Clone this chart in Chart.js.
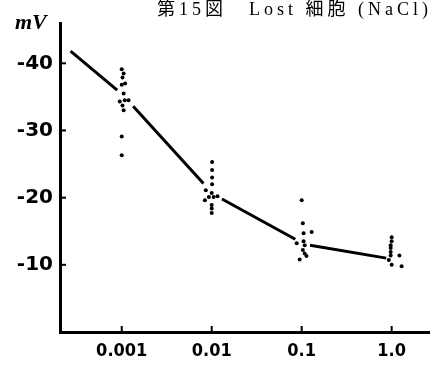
<!DOCTYPE html>
<html lang="ja">
  <head>
    <meta charset="UTF-8" />
    <title>第15図 Lost 細胞 (NaCl)</title>
    <style>
      html, body { margin: 0; padding: 0; background: #fff; }
      #wrap { position: relative; width: 433px; height: 365px; }
    </style>
    <script src="https://cdn.jsdelivr.net/npm/chart.js"></script>
  </head>
  <body>
    <div id="wrap"><canvas id="lostChart"></canvas></div>
    <script>
      // title and axis unit
      const chartTitle = "第15図　Lost 細胞 (NaCl)";
      const yUnit = "mV";

      // x: NaCl concentration (log), y: membrane potential (mV)
      const xTickValues = [0.001, 0.01, 0.1, 1.0];
      const xTickLabels = ["0.001", "0.01", "0.1", "1.0"];
      const yTickValues = [-40, -30, -20, -10];
      const yTickLabels = ["-40", "-30", "-20", "-10"];

      // hand-drawn curve, broken around each cluster (null = gap)
      const curveX = [0.00027, 0.00089, null, 0.00134, 0.0081, null, 0.0130, 0.0849, null, 0.124, 0.871];
      const curveY = [-41.8, -36.0, null, -33.6, -22.1, null, -19.8, -13.8, null, -12.9, -11.0];

      // individual measurements
      const dotsX = [
        0.001, 0.00105, 0.00102, 0.00109, 0.001, 0.00105, 0.00095, 0.00108, 0.00119, 0.00102, 0.00105, 0.001, 0.001,
        0.0101, 0.0101, 0.0101, 0.0101, 0.0086, 0.01, 0.0084, 0.0093, 0.0105, 0.0116, 0.01, 0.01, 0.01,
        0.1, 0.103, 0.105, 0.129, 0.088, 0.105, 0.108, 0.103, 0.108, 0.113, 0.095,
        1.0, 1.0, 0.975, 0.975, 0.975, 0.975, 0.93, 1.22, 1.0, 1.29
      ];
      const dotsY = [
        -39.1, -38.5, -37.9, -37.0, -36.8, -35.5, -34.3, -34.5, -34.5, -33.7, -33.0, -29.1, -26.3,
        -25.3, -24.1, -23.0, -22.0, -21.1, -20.7, -19.6, -20.1, -20.1, -20.2, -18.9, -18.4, -17.7,
        -19.6, -16.2, -14.7, -14.9, -13.2, -13.5, -12.9, -12.2, -11.7, -11.3, -10.8,
        -14.1, -13.5, -12.9, -12.5, -11.9, -11.4, -10.7, -11.4, -10.0, -9.8
      ];

      function toPoints(xs, ys) {
        return xs.map((x, i) => ({ x: x, y: ys[i] }));
      }

      // short inward tick marks + title text
      const paperPlugin = {
        id: "paper",
        afterDraw(chart) {
          const ctx = chart.ctx;
          const area = chart.chartArea;
          const xs = chart.scales.x;
          const ys = chart.scales.y;
          ctx.save();
          ctx.strokeStyle = "#000";
          ctx.lineWidth = 2;
          xTickValues.forEach((v) => {
            const px = xs.getPixelForValue(v);
            ctx.beginPath();
            ctx.moveTo(px, area.bottom);
            ctx.lineTo(px, area.bottom - 6);
            ctx.stroke();
          });
          yTickValues.forEach((v) => {
            const py = ys.getPixelForValue(v);
            ctx.beginPath();
            ctx.moveTo(area.left, py);
            ctx.lineTo(area.left + 6, py);
            ctx.stroke();
          });

          ctx.fillStyle = "#000";
          ctx.textBaseline = "middle";
          ctx.textAlign = "right";
          ctx.font = '18px "Liberation Serif", "Noto Sans CJK JP", serif';
          ctx.letterSpacing = "4px";
          ctx.fillText(chartTitle, 432, 10);
          ctx.letterSpacing = "0px";

          ctx.textAlign = "left";
          ctx.font = 'italic bold 22px "Liberation Serif", serif';
          ctx.fillText(yUnit, 15, 23);
          ctx.restore();
        },
      };

      function renderChart() {
        const ctx = document.getElementById("lostChart").getContext("2d");
        new Chart(ctx, {
          type: "scatter",
          data: {
            datasets: [
              {
                label: "curve",
                data: toPoints(curveX, curveY),
                showLine: true,
                spanGaps: false,
                borderColor: "#000",
                borderWidth: 3,
                pointRadius: 0,
                tension: 0,
              },
              {
                label: "cells",
                data: toPoints(dotsX, dotsY),
                backgroundColor: "#000",
                borderWidth: 0,
                pointRadius: 2,
              },
            ],
          },
          options: {
            responsive: true,
            maintainAspectRatio: false,
            animation: false,
            layout: { padding: { top: 23, right: 0, left: 0, bottom: 0 } },
            plugins: {
              legend: { display: false },
              tooltip: { enabled: false },
            },
            scales: {
              x: {
                type: "logarithmic",
                min: 0.000206,
                max: 2.6,
                afterBuildTicks: (scale) => {
                  scale.ticks = xTickValues.map((v) => ({ value: v }));
                },
                afterFit: (scale) => { scale.height = 33; },
                ticks: {
                  color: "#000",
                  padding: 9,
                  autoSkip: false,
                  maxRotation: 0,
                  font: { family: '"DejaVu Sans Condensed", "DejaVu Sans"', size: 18, weight: "bold" },
                  callback: (v) => {
                    const i = xTickValues.indexOf(v);
                    return i >= 0 ? xTickLabels[i] : "";
                  },
                },
                grid: { display: false, drawTicks: false },
                border: { display: true, color: "#000", width: 3 },
              },
              y: {
                type: "linear",
                min: -46,
                max: 0,
                reverse: true,
                afterBuildTicks: (scale) => {
                  scale.ticks = yTickValues.map((v) => ({ value: v }));
                },
                afterFit: (scale) => { scale.width = 60; },
                ticks: {
                  color: "#000",
                  padding: 7,
                  font: { family: '"DejaVu Sans"', size: 20, weight: "bold" },
                  callback: (v) => {
                    const i = yTickValues.indexOf(v);
                    return i >= 0 ? yTickLabels[i] : "";
                  },
                },
                grid: { display: false, drawTicks: false },
                border: { display: true, color: "#000", width: 3 },
              },
            },
          },
          plugins: [paperPlugin],
        });
      }

      window.onload = renderChart;
    </script>
  </body>
</html>
